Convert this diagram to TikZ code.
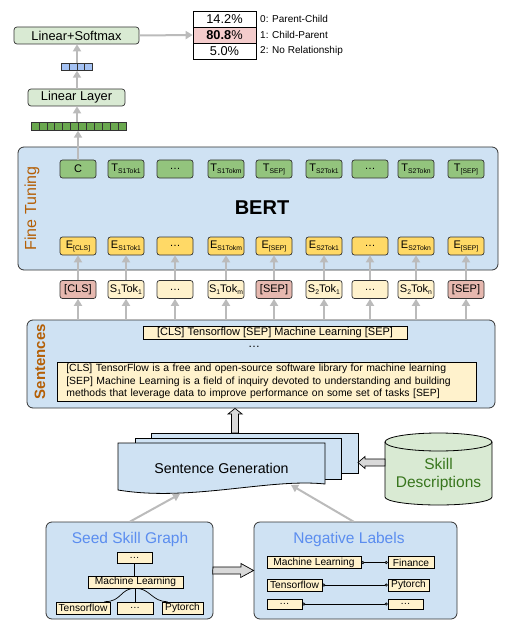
\documentclass[tikz,border=0pt]{standalone}
\usepackage{fontspec}
\setmainfont{Liberation Sans}
\usetikzlibrary{arrows.meta,calc}
\definecolor{lgreen}{HTML}{D9EAD3}
\definecolor{vgreen}{HTML}{6AA84F}
\definecolor{vblue}{HTML}{A4C2F4}
\definecolor{panel}{HTML}{CFE2F3}
\definecolor{tgreen}{HTML}{93C47D}
\definecolor{eyellow}{HTML}{FFD966}
\definecolor{tokl}{HTML}{FFF2CC}
\definecolor{tokp}{HTML}{E6B8AF}
\definecolor{tabp}{HTML}{F4CCCC}
\definecolor{orng}{HTML}{B45F06}
\definecolor{tblue}{HTML}{5B8DEF}
\definecolor{dgreen}{HTML}{38761D}
\definecolor{agray}{HTML}{BBBBBB}
\definecolor{hgray}{HTML}{D9D9D9}
\definecolor{bord}{HTML}{333333}
\newcommand\sbs[1]{\raisebox{-0.35ex}{\fontsize{6.8}{7}\selectfont #1}}
\tikzset{
  rbox/.style={draw=bord, line width=0.7pt, rounded corners=2.5pt, inner sep=0pt, minimum width=36pt, minimum height=18pt, font=\fontsize{11}{12}\selectfont},
  tbox/.style={rbox, fill=tgreen},
  ebox/.style={rbox, fill=eyellow},
  kbox/.style={rbox, fill=tokl},
  pbox/.style={rbox, fill=tokp},
  lbox/.style={draw=black, line width=0.7pt, fill=tokl, inner sep=0pt, font=\fontsize{10.2}{12}\selectfont},
  panelbox/.style={draw=bord, line width=0.8pt, fill=panel, rounded corners=6pt, inner sep=0pt},
  garrow/.style={draw=agray, line width=2pt, -{Triangle[width=8pt,length=7pt]}},
  hollow/.style={draw=black, line width=0.7pt, fill=hgray},
  cell/.style={draw=bord, line width=0.6pt},
  circ/.style={line width=0.7pt, {Circle[open,length=3pt,width=3pt]}-{Circle[open,length=3pt,width=3pt]}},
}
\begin{document}
\begin{tikzpicture}[x=1pt,y=1pt]
\useasboundingbox (0,0) rectangle (512,-631);

% ---------- top: classifier ----------
\node[draw=bord, line width=0.7pt, fill=lgreen, rounded corners=3pt, minimum width=125pt, minimum height=17pt, inner sep=0pt, font=\fontsize{12.8}{14}\selectfont] (ls) at (76.5,-35.5) {Linear+Softmax};
\node[draw=black, line width=0.7pt, minimum width=63pt, minimum height=16pt, inner sep=0pt, font=\fontsize{12.8}{14}\selectfont] (p0) at (224.5,-19) {14.2\%};
\node[draw=black, line width=0.7pt, fill=tabp, minimum width=63pt, minimum height=16pt, inner sep=0pt, font=\fontsize{12.8}{14}\selectfont] (p1) at (224.5,-35) {\textbf{80.8}\%};
\node[draw=black, line width=0.7pt, minimum width=63pt, minimum height=16pt, inner sep=0pt, font=\fontsize{12.8}{14}\selectfont] (p2) at (224.5,-51) {5.0\%};
\node[anchor=west, inner sep=0pt, font=\fontsize{10}{11}\selectfont] (l0) at (260,-19) {0: Parent-Child};
\node[anchor=west, inner sep=0pt, font=\fontsize{10}{11}\selectfont] (l1) at (260,-35) {1: Child-Parent};
\node[anchor=west, inner sep=0pt, font=\fontsize{10}{11}\selectfont] (l2) at (260,-51) {2: No Relationship};
\draw[garrow] (ls.east) -- (p1.west);

% blue vector
\node[minimum width=31pt, minimum height=7pt, inner sep=0pt] (bv) at (77,-67) {};
\foreach \i in {0,...,3} \draw[cell, fill=vblue] (61.5+7.75*\i,-63.5) rectangle ++(7.75,-7);
\draw[garrow] (bv.north) -- (ls.south -| bv.north);

\node[draw=bord, line width=0.7pt, fill=lgreen, rounded corners=3pt, minimum width=97pt, minimum height=17pt, inner sep=0pt, font=\fontsize{12.8}{14}\selectfont] (ll) at (76.5,-97.5) {Linear Layer};
\draw[garrow] (ll.north -| bv.south) -- (bv.south);

% green vector
\node[minimum width=95pt, minimum height=8pt, inner sep=0pt] (gv) at (78.5,-126.5) {};
\foreach \i in {0,...,11} \draw[cell, fill=vgreen] (31+7.9167*\i,-122.5) rectangle ++(7.9167,-8);
\draw[garrow] (gv.north -| bv.south) -- (ll.south -| bv.south);

% ---------- Fine tuning ----------
\node[panelbox, minimum width=480pt, minimum height=123pt] (ft) at (258,-208.5) {};
\node[rotate=90, text=orng, inner sep=0pt, font=\fontsize{16}{18}\selectfont] (ftl) at (32,-208.5) {Fine Tuning};
\node[inner sep=0pt, font=\fontsize{20}{22}\selectfont\bfseries] (bert) at (262,-208) {BERT};

\node[tbox] (t1) at (78,-169) {C};
\node[tbox] (t2) at (126,-169) {T\sbs{S1Tok1}};
\node[tbox] (t3) at (175,-169) {…};
\node[tbox] (t4) at (226,-169) {T\sbs{S1Tokm}};
\node[tbox] (t5) at (274,-169) {T\sbs{SEP]}};
\node[tbox] (t6) at (324,-169) {T\sbs{S2Tok1}};
\node[tbox] (t7) at (370,-169) {…};
\node[tbox] (t8) at (416,-169) {T\sbs{S2Tokn}};
\node[tbox] (t9) at (466,-169) {T\sbs{[SEP]}};

\node[ebox] (e1) at (78,-246) {E\sbs{[CLS]}};
\node[ebox] (e2) at (126,-246) {E\sbs{S1Tok1}};
\node[ebox] (e3) at (175,-246) {…};
\node[ebox] (e4) at (226,-246) {E\sbs{S1Tokm}};
\node[ebox] (e5) at (274,-246) {E\sbs{[SEP]}};
\node[ebox] (e6) at (324,-246) {E\sbs{S2Tok1}};
\node[ebox] (e7) at (370,-246) {…};
\node[ebox] (e8) at (416,-246) {E\sbs{S2Tokn}};
\node[ebox] (e9) at (466,-246) {E\sbs{[SEP]}};

\node[pbox] (k1) at (78,-289.5) {[CLS]};
\node[kbox] (k2) at (126,-289.5) {S\sbs{1}Tok\sbs{1}};
\node[kbox] (k3) at (175,-289.5) {…};
\node[kbox] (k4) at (226,-289.5) {S\sbs{1}Tok\sbs{m}};
\node[pbox] (k5) at (274,-289.5) {[SEP]};
\node[kbox] (k6) at (324,-289.5) {S\sbs{2}Tok\sbs{1}};
\node[kbox] (k7) at (370,-289.5) {…};
\node[kbox] (k8) at (416,-289.5) {S\sbs{2}Tok\sbs{n}};
\node[pbox] (k9) at (466,-289.5) {[SEP]};

\draw[garrow] (t1.north) -- (gv.south -| t1.north);

% ---------- Sentences ----------
\node[panelbox, minimum width=468pt, minimum height=88pt] (sp) at (261,-364) {};
\node[rotate=90, text=orng, inner sep=0pt, font=\fontsize{15}{18}\selectfont\bfseries] (spl) at (40,-361.5) {Sentences};
\node[lbox, minimum width=264pt, minimum height=13pt, font=\fontsize{11}{12}\selectfont] (s1) at (275,-332.5) {[CLS] Tensorflow [SEP] Machine Learning [SEP]};
\node[inner sep=0pt, font=\fontsize{12}{12}\selectfont] (sdots) at (254,-347) {…};
\node[lbox, anchor=west, minimum height=39pt, text width=401pt, inner xsep=9pt, align=left, font=\fontsize{10.4}{12.6}\selectfont] (s2) at (57,-381.5) {[CLS] TensorFlow is a free and open-source software library for machine learning\\{}[SEP] Machine Learning is a field of inquiry devoted to understanding and building\\{}methods that leverage data to improve performance on some set of tasks [SEP]};

\foreach \i in {1,...,9} {
  \draw[garrow] (k\i.north) -- (e\i.south);
  \draw[garrow] (sp.north -| k\i.south) -- (k\i.south);
}

% ---------- Sentence generation ----------
\draw[draw=black, line width=0.8pt, fill=panel] (151,-433) rectangle (358,-473);
\draw[draw=black, line width=0.8pt, fill=panel] (135,-438) rectangle (341,-479);
\draw[draw=black, line width=0.8pt, fill=panel] (118,-443) -- (325,-443) -- (325,-484) .. controls (270,-478) and (190,-502) .. (118,-490) -- cycle;
\node[inner sep=0pt, font=\fontsize{14.2}{16}\selectfont] (sg) at (221.5,-468) {Sentence Generation};

% hollow up arrow
\coordinate (ua) at (235,-433);
\draw[hollow] (ua) ++(-3.5,0) -- ++(0,19) -- ++(-3.5,0) -- (sp.south -| ua) -- ++(7,-5.5) -- ++(-3.5,0) -- ++(0,-19) -- cycle;

% cylinder
\draw[draw=black, line width=0.8pt, fill=lgreen] (385,-442) -- (385,-497) arc[start angle=180, end angle=360, x radius=53.5pt, y radius=8pt] -- (492,-442) arc[start angle=0, end angle=180, x radius=53.5pt, y radius=9pt] -- cycle;
\draw[draw=black, line width=0.8pt] (385,-442) arc[start angle=180, end angle=360, x radius=53.5pt, y radius=9pt];
\node[text=dgreen, align=center, inner sep=0pt, font=\fontsize{15.5}{18}\selectfont] (sd) at (438.5,-474) {Skill\\Descriptions};

% hollow left arrow
\coordinate (la) at (385,-462.5);
\draw[hollow] (la) ++(0,3.5) -- ++(-20,0) -- ++(0,2.5) -- (358,-462.5) -- ++(7,-6) -- ++(0,2.5) -- ++(20,0) -- cycle;

% ---------- Seed Skill Graph ----------
\node[panelbox, minimum width=167pt, minimum height=97pt] (sk) at (129.5,-570.5) {};
\node[text=tblue, inner sep=0pt, font=\fontsize{15.5}{16}\selectfont] (skt) at (130,-539) {Seed Skill Graph};
\node[lbox, minimum width=35pt, minimum height=11pt] (g0) at (134.5,-557.5) {…};
\node[lbox, minimum width=95pt, minimum height=12pt] (gml) at (135.5,-582) {Machine Learning};
\node[lbox, minimum width=54pt, minimum height=12pt] (gtf) at (83,-608) {Tensorflow};
\node[lbox, minimum width=36pt, minimum height=12pt] (gdd) at (135,-608) {…};
\node[lbox, minimum width=41pt, minimum height=12pt] (gpt) at (182.5,-608) {Pytorch};
\draw[line width=0.7pt] (g0.south) -- (g0.south |- gml.north);
\draw[line width=0.7pt] (gml.south) -- (gml.south |- gdd.north);
\draw[line width=0.7pt] (gml.south) .. controls (120,-588) and (122,-602) .. ($(gtf.north east)+(-6,0)$);
\draw[line width=0.7pt] (gml.south) .. controls (150,-588) and (152,-602) .. ($(gpt.north west)+(6,0)$);

% ---------- Negative Labels ----------
\node[panelbox, minimum width=203pt, minimum height=97pt] (nl) at (355.5,-570.5) {};
\node[text=tblue, inner sep=0pt, font=\fontsize{15.5}{16}\selectfont] (nlt) at (349,-539) {Negative Labels};
\node[lbox, minimum width=94pt, minimum height=12pt] (n1a) at (314,-562.5) {Machine Learning};
\node[lbox, minimum width=46pt, minimum height=12pt] (n1b) at (411,-562.5) {Finance};
\node[lbox, minimum width=55pt, minimum height=12pt] (n2a) at (294.5,-585) {Tensorflow};
\node[lbox, minimum width=41pt, minimum height=12pt] (n2b) at (408.5,-585) {Pytorch};
\node[lbox, minimum width=35pt, minimum height=10pt] (n3a) at (284.5,-604) {…};
\node[lbox, minimum width=35pt, minimum height=10pt] (n3b) at (405.5,-604) {…};
\draw[circ] (n1a.east) -- (n1b.west);
\draw[circ] (n2a.east) -- (n2b.west);
\draw[circ] (n3a.east) -- (n3b.west);

% hollow right arrow
\coordinate (ra) at (213,-570.5);
\draw[hollow] (ra) ++(0,3.5) -- ++(28,0) -- ++(0,3.5) -- (nl.west) -- ++(-13,-7) -- ++(0,3.5) -- ++(-28,0) -- cycle;

% gray arrows into sentence generation
\coordinate (sga) at (180,-494);
\coordinate (sgb) at (291,-485);
\draw[garrow] (sk.north -| skt.south) -- (sga);
\draw[garrow] ($(nl.north)+(-2,0)$) -- (sgb);
\end{tikzpicture}
\end{document}
